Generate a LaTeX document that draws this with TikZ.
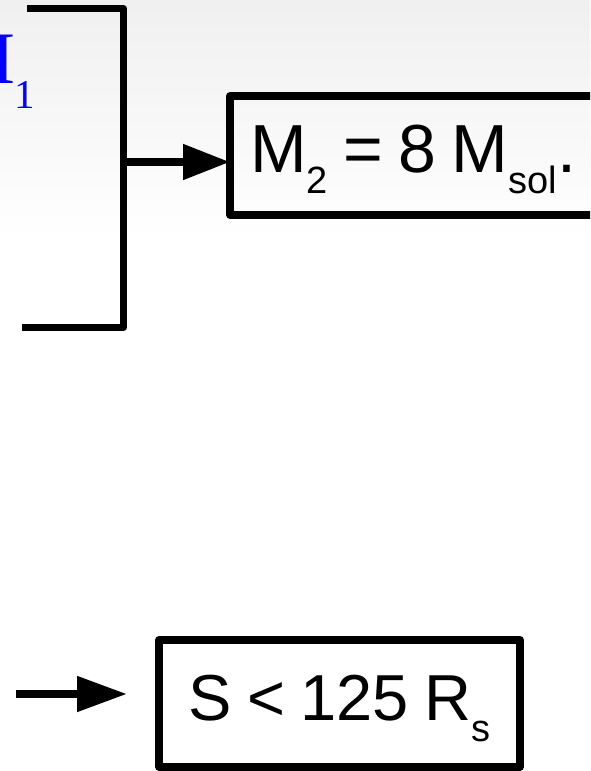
\documentclass[tikz,border=0pt]{standalone}
\usepackage{fontspec}
\setmainfont{Liberation Sans}
\newfontfamily\serifface{Liberation Serif}
\usetikzlibrary{arrows.meta,calc}

% lowered subscripts at a fixed size
\newcommand{\lowsub}[1]{\raisebox{-21pt}{\fontsize{38pt}{38pt}\selectfont #1}}
\newcommand{\serifsub}[1]{\raisebox{-25pt}{\fontsize{41pt}{41pt}\selectfont #1}}
% tighter word spacing for the box texts
\newcommand{\tightwords}{\spaceskip=15.5pt\relax}

\begin{document}
\begin{tikzpicture}[x=1pt,y=-1pt,
  bracket/.style={line width=7pt, line join=round},
  valuebox/.style={draw, line width=7.5pt, line join=round, rectangle,
    inner ysep=0pt, outer sep=0pt},
  pointer/.style={line width=8pt, -{Triangle[length=47pt,width=34pt]}}]

  % page area and soft grey band along the top
  \clip (0,0) rectangle (590,771);
  \fill[white] (0,0) rectangle (590,771);
  \shade[top color=black!6, bottom color=white] (0,0) rectangle (590,240);

  % primary mass label, running off the left edge
  \node[anchor=base west, inner sep=0pt, text=blue,
        font=\serifface\fontsize{74pt}{74pt}\selectfont] (m1) at (-51,83) {M\serifsub{1}};

  % bracket grouping the inputs
  \draw[bracket] (27,8.5) -- (123.5,8.5) -- (123.5,327.5) -- (22,327.5);
  \coordinate (brk) at (123.5,162);

  % result boxes
  \node[valuebox, anchor=base west, inner xsep=20pt,
        font=\fontsize{68pt}{68pt}\selectfont,
        text height=76pt, text depth=43pt] (m2) at (230,172)
        {\tightwords M\lowsub{2} = 8 M\lowsub{sol}.};

  \node[valuebox, anchor=base west, inner xsep=0pt, minimum width=361pt,
        font=\fontsize{65pt}{65pt}\selectfont,
        text height=80pt, text depth=47pt] (srange) at (159,720)
        {\tightwords S < 125 R\lowsub{s}};

  % arrows
  \draw[pointer] (brk) -- (brk -| m2.west);

  \coordinate (s0) at (16,694);
  \coordinate (s1) at (127,694);
  \draw[pointer, -{Triangle[length=50pt,width=34pt]}] (s0) -- (s1);
\end{tikzpicture}
\end{document}
